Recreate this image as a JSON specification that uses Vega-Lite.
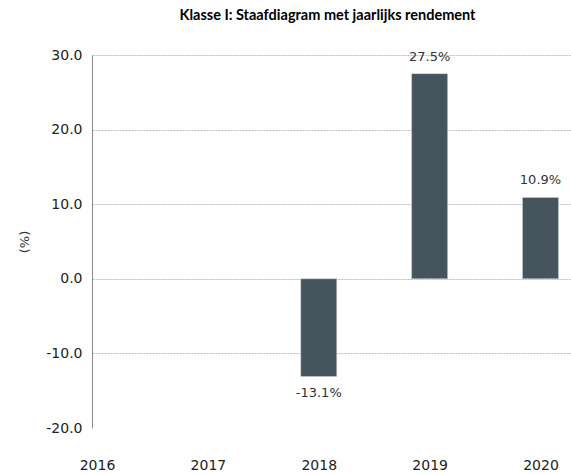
{
  "$schema": "https://vega.github.io/schema/vega-lite/v6.json",
  "autosize": "none",
  "width": 479,
  "height": 373,
  "padding": {"left": 92, "top": 55, "right": 0, "bottom": 46},
  "background": "white",
  "title": {
    "text": "Klasse I: Staafdiagram met jaarlijks rendement",
    "font": "Lato",
    "fontSize": 14.5,
    "fontWeight": "bold",
    "color": "#000000",
    "anchor": "middle",
    "dx": -4,
    "offset": 25
  },
  "config": {
    "view": {"stroke": null}
  },
  "data": {
    "values": [
      {"year": 2018, "value": -13.1, "label": "-13.1%"},
      {"year": 2019, "value": 27.5, "label": "27.5%"},
      {"year": 2020, "value": 10.9, "label": "10.9%"}
    ]
  },
  "encoding": {
    "x": {
      "field": "year",
      "type": "quantitative",
      "scale": {"domain": [2016, 2020.23], "nice": false, "zero": false},
      "axis": {
        "values": [2016, 2017, 2018, 2019, 2020],
        "format": "d",
        "title": null,
        "grid": false,
        "domain": false,
        "ticks": false,
        "labelPadding": 30,
        "labelFont": "DejaVu Sans",
        "labelFontSize": 14,
        "labelColor": "#222222",
        "labelFlush": false
      }
    },
    "y": {
      "field": "value",
      "type": "quantitative",
      "scale": {"domain": [-20, 30], "nice": false},
      "axis": {
        "values": [-20, -10, 0, 10, 20, 30],
        "format": ".1f",
        "labelExpr": "replace(datum.label, '\u2212', '-')",
        "title": "(%)",
        "titleFont": "DejaVu Sans",
        "titleFontSize": 13,
        "titleFontWeight": "normal",
        "titleColor": "#333333",
        "titlePadding": 14,
        "grid": true,
        "gridColor": "#bbbbbb",
        "gridDash": [2, 1],
        "gridOpacity": {"condition": {"test": "datum.value === -20", "value": 0}, "value": 1},
        "domain": true,
        "domainColor": "#888888",
        "ticks": false,
        "labelPadding": 10,
        "labelFont": "DejaVu Sans",
        "labelFontSize": 14,
        "labelColor": "#222222"
      }
    }
  },
  "layer": [
    {
      "mark": {"type": "bar", "width": 36, "color": "#46545e", "stroke": "#d0d4d6", "strokeWidth": 0.5},
      "encoding": {"y2": {"datum": 0}}
    },
    {
      "transform": [{"filter": "datum.value >= 0"}],
      "mark": {"type": "text", "baseline": "middle", "dy": -17, "font": "DejaVu Sans", "fontSize": 13, "color": "#333333"},
      "encoding": {"text": {"field": "label"}}
    },
    {
      "transform": [{"filter": "datum.value < 0"}],
      "mark": {"type": "text", "baseline": "middle", "dy": 16, "font": "DejaVu Sans", "fontSize": 13, "color": "#333333"},
      "encoding": {"text": {"field": "label"}}
    }
  ]
}
